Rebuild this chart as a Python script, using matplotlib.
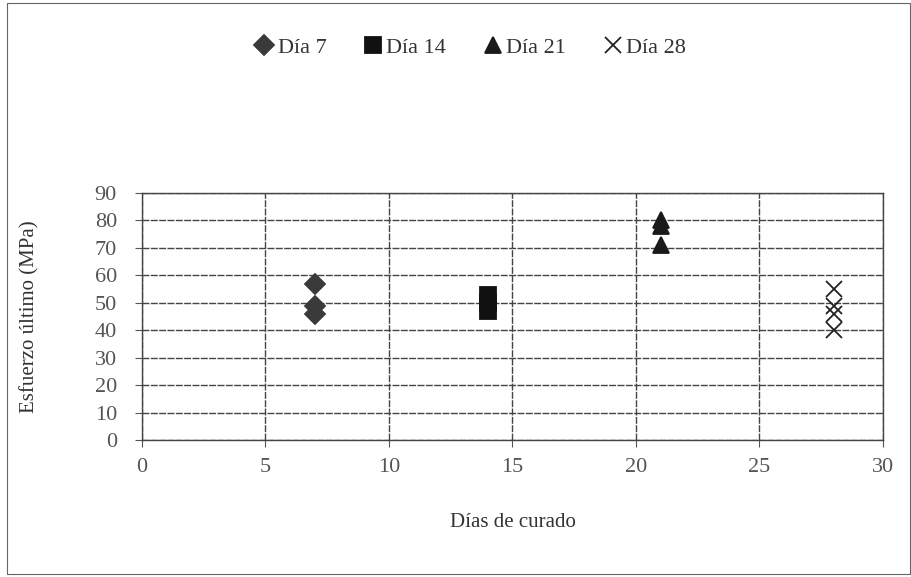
"""Esfuerzo último vs. días de curado (dispersión)."""

import matplotlib
matplotlib.use("Agg")
import matplotlib.pyplot as plt

plt.rcParams["font.family"] = ["Liberation Serif", "DejaVu Serif"]

# Datos
dias_7 = [7, 7, 7]
esf_7 = [57, 49, 46]
dias_14 = [14, 14, 14]
esf_14 = [53, 50, 47]
dias_21 = [21, 21, 21]
esf_21 = [80, 78, 71]
dias_28 = [28, 28, 28, 28]
esf_28 = [55, 49, 46, 40]

series = [
    ("Día 7", dias_7, esf_7, "D", "#3a3a3a", 10),
    ("Día 14", dias_14, esf_14, "s", "#111111", 12),
    ("Día 21", dias_21, esf_21, "^", "#1a1a1a", 12),
    ("Día 28", dias_28, esf_28, "x", "#222222", 12),
]

x_ticks = [0, 5, 10, 15, 20, 25, 30]
y_ticks = [0, 10, 20, 30, 40, 50, 60, 70, 80, 90]

fig = plt.figure(figsize=(9.12, 5.77), dpi=100)
ax = fig.add_axes([0.1557, 0.2374, 0.8125, 0.4281])

for label, xs, ys, marker, color, size in series:
    ax.plot(xs, ys, linestyle="none", marker=marker, color=color,
            markersize=size, markeredgewidth=1.3, label=label, zorder=3)

ax.set_xlim(0, 30)
ax.set_ylim(0, 90)
ax.set_xticks(x_ticks)
ax.set_yticks(y_ticks)
ax.grid(True, color="#444444", linewidth=1.0, linestyle=(0, (5, 1)))
ax.set_axisbelow(True)
for spine in ax.spines.values():
    spine.set_color("#444444")
    spine.set_linewidth(1.0)

ax.tick_params(axis="y", length=5, color="#555555", labelsize=16,
               labelcolor="#555555", pad=13)
ax.tick_params(axis="x", length=5, color="#555555", labelsize=16,
               labelcolor="#555555", pad=8)

ax.set_xlabel("Días de curado", fontsize=15, color="#333333", labelpad=26)
ax.set_ylabel("Esfuerzo último (MPa)", fontsize=15, color="#333333", labelpad=40)

fig.legend(loc="center", bbox_to_anchor=(0.515, 0.918), ncol=4, frameon=False,
           fontsize=16, handletextpad=0.1, columnspacing=1.6, handlelength=1.0,
           labelcolor="#333333")

# Borde del gráfico
fig.add_artist(plt.Rectangle((0.008, 0.005), 0.99, 0.99, transform=fig.transFigure,
                             fill=False, edgecolor="#666666", linewidth=0.8))

fig.savefig("out.png", dpi=100)
plt.close(fig)
